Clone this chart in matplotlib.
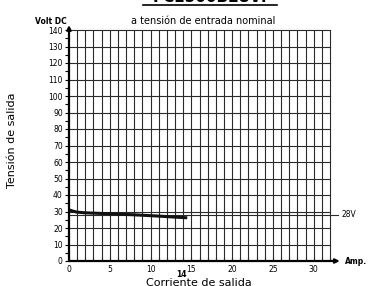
import matplotlib
matplotlib.use("Agg")
import matplotlib.pyplot as plt
import numpy as np

# Data
curve_x = [0, 0.5, 1, 2, 3, 5, 8, 11, 13, 14.5]
curve_y = [31, 30.2, 29.6, 29.2, 29.0, 28.6, 28.0, 27.2, 26.6, 26.2]
nominal_v = 28
x_ticks = [0, 5, 10, 15, 20, 25, 30]
y_ticks = [0, 10, 20, 30, 40, 50, 60, 70, 80, 90, 100, 110, 120, 130, 140]

fig = plt.figure(figsize=(3.72, 2.86), dpi=100)
ax = fig.add_axes([69/372, 1-261/286, (330-69)/372, (261-30)/286])
ax.set_xlim(0, 32)
ax.set_ylim(0, 140)
for s in ax.spines.values():
    s.set_visible(False)

# grid
for xv in range(1, 33):
    ax.plot([xv, xv], [0, 140], color='#2a2a2a', lw=0.8, solid_capstyle='butt', clip_on=False)
for yv in range(10, 141, 10):
    ax.plot([0, 32], [yv, yv], color='#2a2a2a', lw=0.8, clip_on=False)

# nominal line
ax.plot([0, 33], [nominal_v, nominal_v], color='#2a2a2a', lw=0.8, clip_on=False)
ax.text(33.4, nominal_v, '28V', fontsize=5.5, va='center', ha='left')

# curve
ax.plot(curve_x, curve_y, color='#111111', lw=2.2, solid_capstyle='butt')

# axes with arrows
ax.annotate('', xy=(33.2, 0), xytext=(0, 0),
            arrowprops=dict(arrowstyle='-|>', color='black', lw=1.6, mutation_scale=6, shrinkA=0, shrinkB=0),
            annotation_clip=False)
ax.annotate('', xy=(0, 143), xytext=(0, 0),
            arrowprops=dict(arrowstyle='-|>', color='black', lw=1.6, mutation_scale=6, shrinkA=0, shrinkB=0),
            annotation_clip=False)

ax.set_xticks(x_ticks)
ax.set_xticklabels([str(t) for t in x_ticks])
ax.set_xticks(range(0, 33), minor=True)
ax.set_yticks(y_ticks)
ax.set_yticklabels([str(t) for t in y_ticks])
ax.set_yticks(range(0, 141, 5), minor=True)
ax.tick_params(axis='both', which='major', labelsize=5.5, length=3, width=0.8, color='black', pad=1.5)
ax.tick_params(axis='both', which='minor', length=3, width=0.8, color='black')
ax.tick_params(axis='x', which='both', direction='in', pad=3)

ax.text(33.8, 0, 'Amp.', fontsize=5.5, fontweight='bold', va='center', ha='left')
ax.text(13.8, -8.3, '14', fontsize=5.5, fontweight='bold', va='center', ha='center')
ax.text(-0.3, 145, 'Volt DC', fontsize=5.5, fontweight='bold', va='center', ha='right')
ax.text(16.5, 145.5, 'a tensión de entrada nominal', fontsize=7, va='center', ha='center')

fig.text(199/372, 1-282.5/286, 'Corriente de salida', fontsize=8, ha='center', va='center')
fig.text(12/372, 1-140/286, 'Tensión de salida', fontsize=8, ha='center', va='center', rotation=90)

# cropped header at the top (only the bottom of the letters shows)
fig.text(210/372, 1-2.5/286, 'PCE500B28V:', fontsize=11, fontweight='bold', ha='center', va='baseline')
fig.add_artist(plt.Line2D([143/372, 277/372], [1-4.5/286, 1-4.5/286], color='black', lw=1.2))

fig.savefig('out.png', dpi=100)
